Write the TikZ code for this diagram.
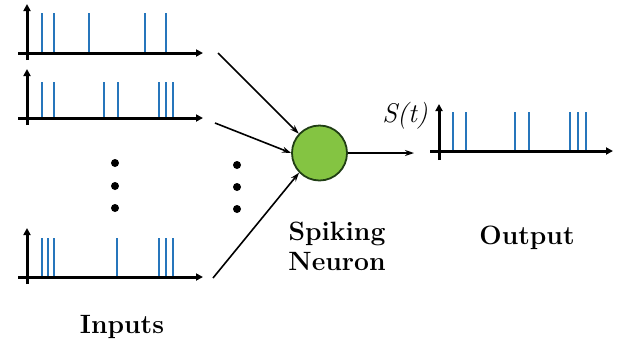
\documentclass[tikz,border=0pt]{standalone}
\usetikzlibrary{arrows.meta}
\definecolor{spikeblue}{RGB}{38,118,188}
\definecolor{cellgreen}{RGB}{132,196,66}
\definecolor{celledge}{RGB}{32,62,20}
\tikzset{
  axisline/.style={line width=3pt,-{Triangle[length=7pt,width=7pt]}},
  spikeline/.style={spikeblue,line width=2.6pt},
  conn/.style={line width=1.6pt,-{Stealth[length=9pt,width=6pt]}},
  dotmark/.style={circle,fill=black,inner sep=0pt,minimum size=8pt},
  caption/.style={font=\bfseries\fontsize{26.5}{30}\selectfont,align=center},
}
% one spike train: origin (x0,y0), spike positions, spike top y
\newcommand{\spiketrain}[4]{%
  \draw[axisline] (#1-9,#2) -- (#1+176,#2);
  \draw[axisline] (#1,#2+7) -- (#1,#2-49);
  \foreach \s in {#3} \draw[spikeline] (\s,#2-1) -- (\s,#4);
}
\begin{document}
\begin{tikzpicture}[x=1pt,y=-1pt]
\useasboundingbox (0,0) rectangle (617,346);

% input spike trains
\spiketrain{27}{53}{42,54,89,145,166}{13}
\spiketrain{27}{118}{42,54,104,118,159,166,173}{82}
\spiketrain{27}{277}{42,48,54,117,159,166,173}{238}

% elision dots
\node[dotmark] (d1) at (115,163) {};
\node[dotmark] (d2) at (115,186) {};
\node[dotmark] (d3) at (115,208) {};
\node[dotmark] (e1) at (237,165) {};
\node[dotmark] (e2) at (237,187) {};
\node[dotmark] (e3) at (237,209) {};

% neuron
\node[circle,minimum size=55pt,inner sep=0pt,fill=cellgreen,draw=celledge,line width=1.8pt] (neuron) at (319.5,153) {};

% connectors
\coordinate (in1) at (218,53);
\coordinate (in2) at (215,123);
\coordinate (in3) at (213,278);
\coordinate (out) at (414,153);
\draw[conn] (in1) -- (neuron.137);
\draw[conn] (in2) -- (neuron.180);
\draw[conn] (in3) -- (neuron.224);
\draw[conn] (neuron.east) -- (out);

% output spike train
\draw[axisline] (430,151) -- (613,151);
\draw[axisline] (439,160) -- (439,104);
\foreach \s in {453,466,515,529,570,578,586} \draw[spikeline] (\s,150) -- (\s,112);
\node[font=\itshape\fontsize{27}{30}\selectfont] (st) at (405,116) {S(t)};

% captions
\node[caption] (lneuron) at (337,246) {Spiking\\Neuron};
\node[caption] (lout) at (527,238) {Output};
\node[caption] (lin) at (122,327) {Inputs};
\end{tikzpicture}
\end{document}
